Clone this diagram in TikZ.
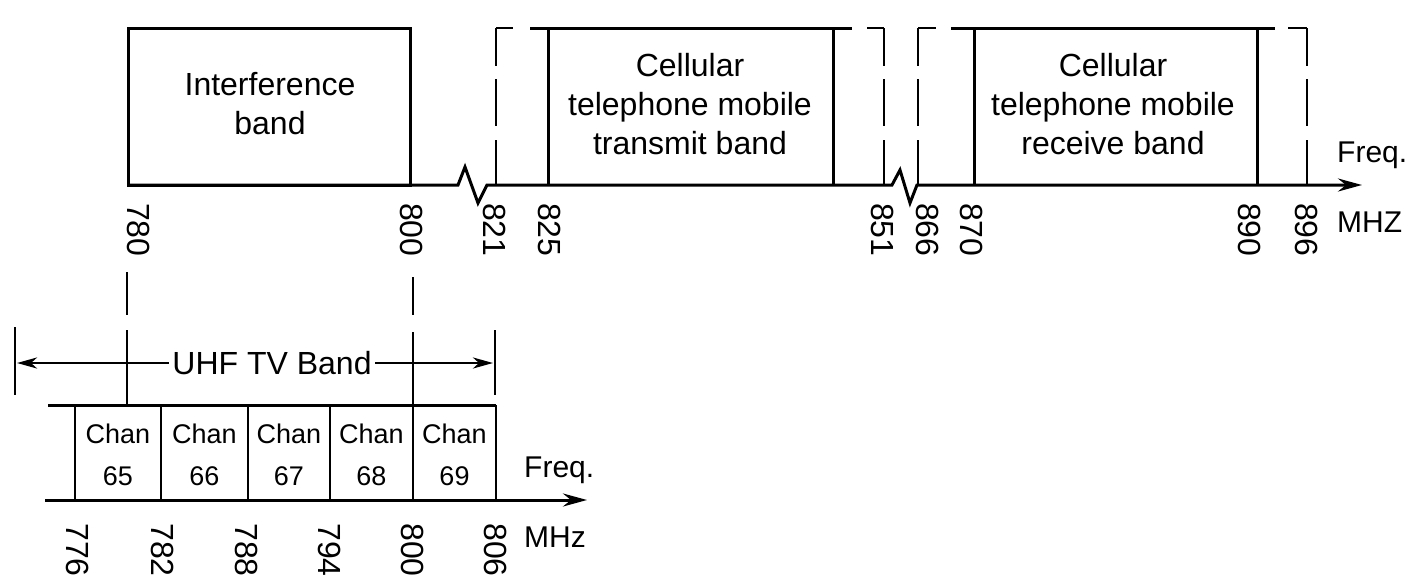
\documentclass[tikz,border=0pt]{standalone}
\usepackage{fontspec}
\setmainfont{Liberation Sans}
\usetikzlibrary{arrows.meta}
\begin{document}
\begin{tikzpicture}[x=1pt,y=-1pt,
  solidline/.style={line width=3pt},
  thinline/.style={line width=2.6pt},
  dashv/.style={line width=2.7pt, dash pattern=on 38pt off 13pt on 47pt off 14pt on 60pt off 0pt},
  axisarrow/.style={line width=3pt, -{Stealth[length=24pt,width=13pt,inset=8pt]}},
  bandtext/.style={align=center, inner sep=0pt, font=\fontsize{32}{39}\selectfont},
  chantext/.style={align=center, inner sep=0pt, font=\fontsize{27}{42}\selectfont},
  lab/.style={rotate=-90, anchor=west, inner sep=0pt, font=\fontsize{32}{36}\selectfont},
  unit/.style={anchor=base west, inner sep=0pt, font=\fontsize{30}{34}\selectfont}]
\useasboundingbox (0,0) rectangle (1417,587);
\fill[white] (0,0) rectangle (1417,587);

% ---------- upper spectrum ----------
% interference band
\draw[solidline] (128,28) rectangle (410,185);
\node[bandtext] (intf) at (270,104) {Interference\\band};

% transmit band (solid 825-845, dashed 821-851)
\draw[solidline] (548,28) -- (548,185);
\draw[solidline] (833,28) -- (833,185);
\draw[dashv] (496,28) -- (496,185);
\draw[dashv] (884,28) -- (884,185);
\draw[thinline] (496,28) -- (513,28);
\draw[solidline] (530,28) -- (852,28);
\draw[thinline] (867,28) -- (884,28);
\node[bandtext] (tx) at (690,104) {Cellular\\telephone mobile\\transmit band};

% receive band (solid 870-890, dashed 866-896)
\draw[solidline] (974,28) -- (974,185);
\draw[solidline] (1257,28) -- (1257,185);
\draw[dashv] (918,28) -- (918,185);
\draw[dashv] (1307,28) -- (1307,185);
\draw[thinline] (918,28) -- (936,28);
\draw[solidline] (951,28) -- (1275,28);
\draw[thinline] (1288,28) -- (1307,28);
\node[bandtext] (rx) at (1113,104) {Cellular\\telephone mobile\\receive band};

% frequency axis with breaks
\draw[axisarrow] (128,185) -- (458,185) -- (465,167) -- (478,203) -- (487,185)
  -- (892,185) -- (900,170) -- (910,203) -- (917,185) -- (1362,185);
\node[unit] (freqA) at (1337,162) {Freq.};
\node[unit] (mhzA) at (1337,232) {MHZ};

% axis labels
\node[lab] (l780) at (139,203) {780};
\node[lab] (l800) at (412,203) {800};
\node[lab] (l821) at (495,203) {821};
\node[lab] (l825) at (550,203) {825};
\node[lab] (l851) at (883,203) {851};
\node[lab] (l866) at (928,203) {866};
\node[lab] (l870) at (972,203) {870};
\node[lab] (l890) at (1250,203) {890};
\node[lab] (l896) at (1307,203) {896};

% drop lines
\draw[thinline, dash pattern=on 43pt off 15pt on 90pt] (127,272) -- (127,405);
\draw[thinline, dash pattern=on 38pt off 17pt on 90pt] (413,277) -- (413,405);

% ---------- UHF TV band ----------
\draw[thinline] (15,327) -- (15,395);
\draw[thinline] (495,330) -- (495,395);
\draw[thinline, {Stealth[length=20pt,width=11pt,inset=6pt]}-{Stealth[length=20pt,width=11pt,inset=6pt]}] (17,363) -- (493,363);
\node[bandtext, fill=white, inner xsep=3pt, inner ysep=2pt] (uhf) at (272,363) {UHF TV Band};

% channel chart
\draw[solidline] (48,405) -- (496,405);
\foreach \xx in {75,161,248,330,413,496} \draw[thinline] (\xx,405) -- (\xx,500);
\draw[axisarrow] (45,500) -- (587,500);
\node[chantext] (c65) at (118,455) {Chan\\65};
\node[chantext] (c66) at (204.5,455) {Chan\\66};
\node[chantext] (c67) at (289,455) {Chan\\67};
\node[chantext] (c68) at (371.5,455) {Chan\\68};
\node[chantext] (c69) at (454.5,455) {Chan\\69};
\node[unit] (freqB) at (524,477) {Freq.};
\node[unit] (mhzB) at (524,547) {MHz};

\node[lab] (b776) at (78,523) {776};
\node[lab] (b782) at (163,523) {782};
\node[lab] (b788) at (247,523) {788};
\node[lab] (b794) at (330,523) {794};
\node[lab] (b800) at (413,523) {800};
\node[lab] (b806) at (496,523) {806};
\end{tikzpicture}
\end{document}
